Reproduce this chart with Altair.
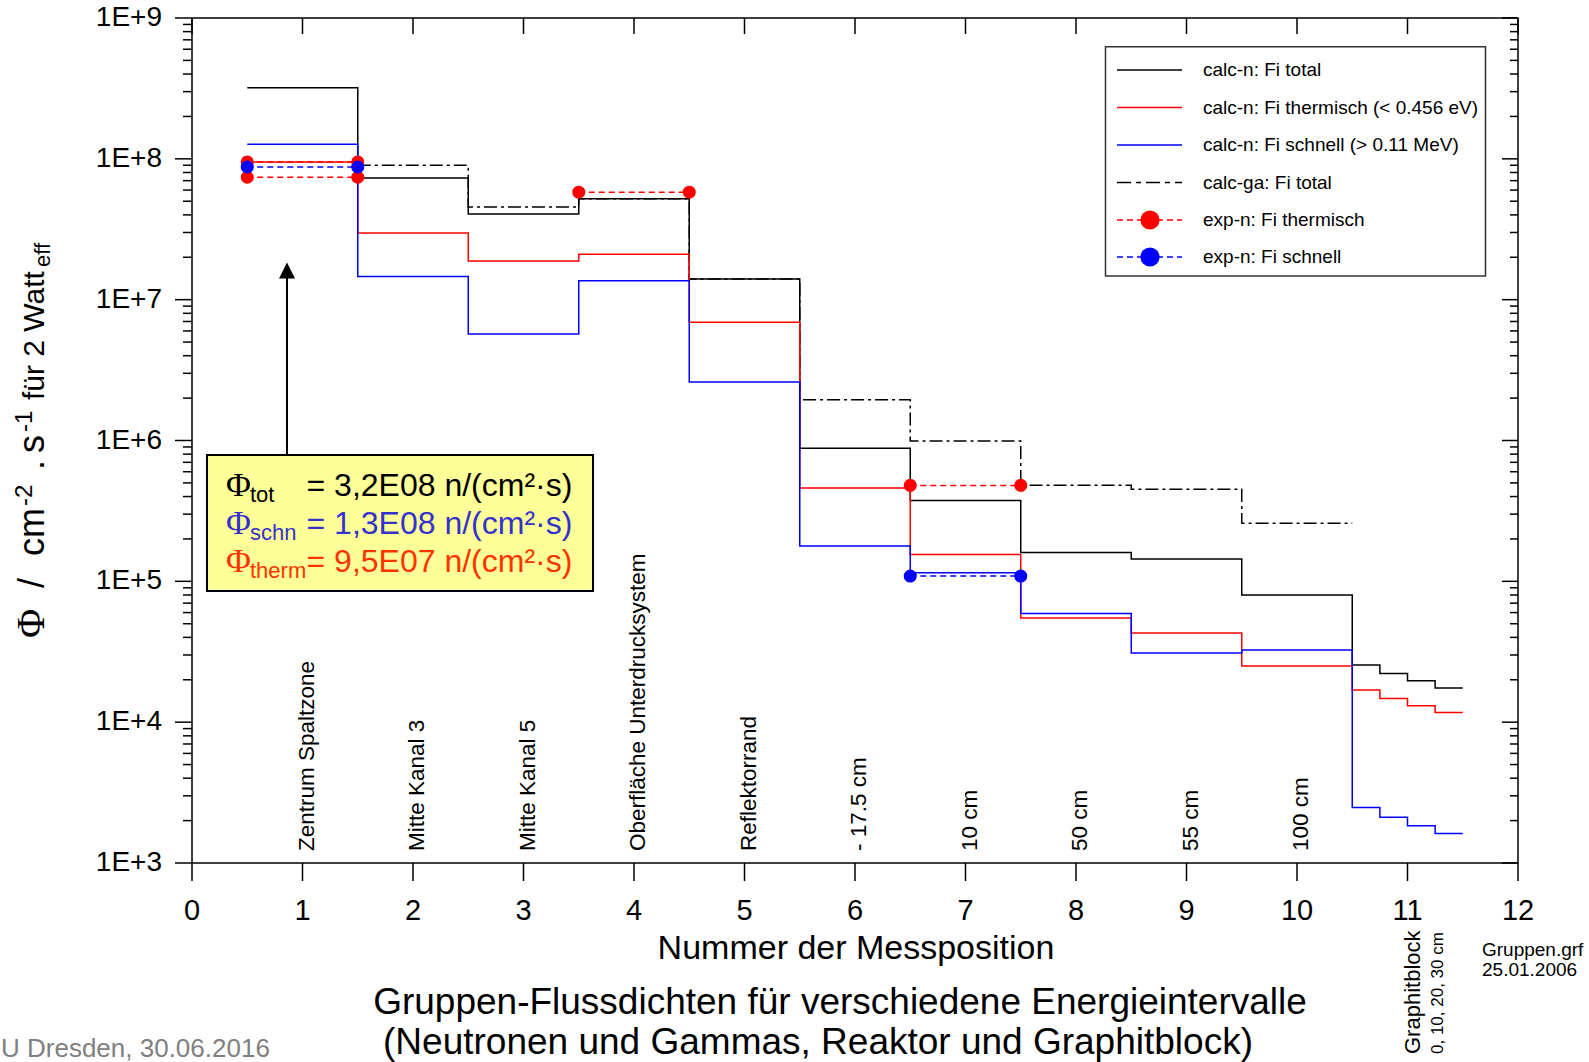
import altair as alt
import pandas as pd

# ---------------- data ----------------
edges = [0.5, 1.5, 2.5, 3.5, 4.5, 5.5, 6.5, 7.5, 8.5, 9.5, 10.5, 10.75, 11.0, 11.25, 11.5]
calc_total = [3.2e8, 7.3e7, 4.05e7, 5.2e7, 1.4e7, 8.8e5, 3.75e5, 1.6e5, 1.44e5, 8.0e4,
              2.55e4, 2.22e4, 1.97e4, 1.75e4, 1.75e4]
calc_therm = [9.5e7, 2.97e7, 1.88e7, 2.1e7, 6.9e6, 4.6e5, 1.55e5, 5.5e4, 4.3e4, 2.5e4,
              1.69e4, 1.47e4, 1.31e4, 1.17e4, 1.17e4]
calc_fast = [1.27e8, 1.46e7, 5.7e6, 1.36e7, 2.6e6, 1.78e5, 1.15e5, 5.9e4, 3.1e4, 3.25e4,
             2.48e3, 2.11e3, 1.84e3, 1.62e3, 1.62e3]
ga_edges = [1.5, 2.5, 3.5, 4.5, 5.5, 6.5, 7.5, 8.5, 9.5, 10.5]
calc_ga_total = [9.0e7, 4.55e7, 5.2e7, 1.4e7, 1.95e6, 9.9e5, 4.82e5, 4.5e5, 2.59e5, 2.59e5]

exp_therm_x = [0.5, 1.5, 0.5, 1.5, 3.5, 4.5, 6.5, 7.5]
exp_therm_y = [9.5e7, 9.5e7, 7.4e7, 7.4e7, 5.8e7, 5.8e7, 4.8e5, 4.8e5]
exp_therm_seg = [1, 1, 2, 2, 3, 3, 4, 4]
exp_fast_x = [0.5, 1.5, 6.5, 7.5]
exp_fast_y = [8.75e7, 8.75e7, 1.09e5, 1.09e5]
exp_fast_seg = [1, 1, 2, 2]

pos_numbers = [1, 2, 3, 4, 5, 6, 7, 8, 9, 10]
pos_labels = ["Zentrum Spaltzone", "Mitte Kanal 3", "Mitte Kanal 5",
              "Oberfläche Unterdrucksystem", "Reflektorrand", "- 17.5 cm",
              "10 cm", "50 cm", "55 cm", "100 cm"]

legend_labels = ["calc-n: Fi total", "calc-n: Fi thermisch (< 0.456 eV)",
                 "calc-n: Fi schnell (> 0.11 MeV)", "calc-ga: Fi total",
                 "exp-n: Fi thermisch", "exp-n: Fi schnell"]

x_ticks = list(range(0, 13))
x_tick_labels = [str(v) for v in x_ticks]
y_major = [1e3, 1e4, 1e5, 1e6, 1e7, 1e8, 1e9]
y_tick_labels = ["1E+3", "1E+4", "1E+5", "1E+6", "1E+7", "1E+8", "1E+9"]
y_minor = [m * 10 ** k for k in range(3, 9) for m in range(2, 10)]

# ---------------- layout ----------------
W, H = 1326, 845
PL, PT = 192, 18
PR, PB = 1589 - PL - W, 1062 - PT - H
FONT = "Liberation Sans, Arial, sans-serif"
SERIF = "Liberation Serif, Times New Roman, serif"
RED, BLUE, BLACK = "#FF0000", "#0000FF", "#000000"

XS = alt.Scale(domain=[0, 12], nice=False, zero=False)
YS = alt.Scale(type="log", domain=[1e3, 1e9], nice=False)

one = pd.DataFrame({"k": [0]})


def X(field):
    return alt.X(field, scale=XS, axis=None)


def Y(field):
    return alt.Y(field, scale=YS, axis=None)


def steps(xs, ys, color, dash=None):
    df = pd.DataFrame({"x": xs, "y": ys})
    kw = dict(interpolate="step-after", color=color, strokeWidth=1.5)
    if dash:
        kw["strokeDash"] = dash
    return alt.Chart(df).mark_line(**kw).encode(x=X("x:Q"), y=Y("y:Q"))


def exp_layers(xs, ys, seg, color):
    df = pd.DataFrame({"x": xs, "y": ys, "seg": seg})
    base = alt.Chart(df).encode(x=X("x:Q"), y=Y("y:Q"))
    ln = base.mark_line(color=color, strokeWidth=1.5, strokeDash=[6, 4]).encode(detail="seg:N")
    pt = base.mark_circle(color=color, size=170, opacity=1)
    return [ln, pt]


def txt(s, x, y, size, color="black", font=FONT, align="left", baseline="alphabetic", angle=0):
    return alt.Chart(one).mark_text(text=s, fontSize=size, font=font, color=color, align=align,
                                    baseline=baseline, angle=angle).encode(
        x=alt.value(x), y=alt.value(y))


def rule(df, **enc):
    return alt.Chart(df).mark_rule(color="black", strokeWidth=1.5).encode(**enc)


layers = []
# calculated step curves
layers.append(steps(ga_edges, calc_ga_total, BLACK, dash=[13, 4, 3, 4]))
layers.append(steps(edges, calc_total, BLACK))
layers.append(steps(edges, calc_therm, RED))
layers.append(steps(edges, calc_fast, BLUE))
# experimental values
layers += exp_layers(exp_therm_x, exp_therm_y, exp_therm_seg, RED)
layers += exp_layers(exp_fast_x, exp_fast_y, exp_fast_seg, BLUE)

# axes: ticks and labels
minor_df = pd.DataFrame({"v": y_minor})
major_df = pd.DataFrame({"v": y_major, "lab": y_tick_labels})
xt_df = pd.DataFrame({"v": x_ticks, "lab": x_tick_labels})
layers.append(rule(minor_df, y=Y("v:Q"), x=alt.value(-9), x2=alt.value(0)))
layers.append(rule(major_df, y=Y("v:Q"), x=alt.value(-17), x2=alt.value(0)))
layers.append(rule(minor_df, y=Y("v:Q"), x=alt.value(W - 8), x2=alt.value(W)))
layers.append(rule(major_df, y=Y("v:Q"), x=alt.value(W - 16), x2=alt.value(W)))
layers.append(rule(xt_df, x=X("v:Q"), y=alt.value(0), y2=alt.value(16)))
layers.append(rule(xt_df, x=X("v:Q"), y=alt.value(H), y2=alt.value(H + 18)))
layers.append(alt.Chart(major_df).mark_text(align="right", baseline="middle", fontSize=28,
                                            font=FONT, color="black").encode(
    y=Y("v:Q"), x=alt.value(-30), text="lab:N"))
layers.append(alt.Chart(xt_df).mark_text(align="center", baseline="alphabetic", fontSize=29,
                                         font=FONT, color="black").encode(
    x=X("v:Q"), y=alt.value(H + 57), text="lab:N"))

# position labels (vertical)
lab_df = pd.DataFrame({"pos": pos_numbers, "label": pos_labels})
layers.append(alt.Chart(lab_df).mark_text(angle=270, align="left", baseline="alphabetic", dy=11,
                                          fontSize=22.5, font=FONT, color="black").encode(
    x=X("pos:Q"), y=alt.value(833), text="label:N"))

# annotation box with arrow
layers.append(alt.Chart(one).mark_rule(color="black", strokeWidth=2).encode(
    x=alt.value(95), y=alt.value(259), y2=alt.value(437)))
layers.append(alt.Chart(one).mark_point(shape="M0,-1L1,1L-1,1Z", filled=True, size=256,
                                        color="black", opacity=1).encode(
    x=alt.value(95), y=alt.value(252.5)))
layers.append(alt.Chart(one).mark_rect(fill="#FFFF99", stroke="black", strokeWidth=2).encode(
    x=alt.value(15), x2=alt.value(401), y=alt.value(437), y2=alt.value(573)))
box_rows = [("tot", "= 3,2E08 n/(cm²·s)", "black", 478),
            ("schn", "= 1,3E08 n/(cm²·s)", "#3333CC", 516),
            ("therm", "= 9,5E07 n/(cm²·s)", "#FF3300", 554)]
for sub, rest, col, yb in box_rows:
    layers.append(txt("Φ", 34, yb, 34, color=col, font=SERIF))
    layers.append(txt(sub, 58, yb + 6, 22, color=col))
    layers.append(txt(rest, 114.5, yb, 32, color=col))

# legend
LX0, LX1, LY0, LY1 = 913.5, 1293.5, 28.7, 258
layers.append(alt.Chart(one).mark_rect(fill="white", stroke="#333333", strokeWidth=1.5).encode(
    x=alt.value(LX0), x2=alt.value(LX1), y=alt.value(LY0), y2=alt.value(LY1)))
row_y = [52, 89.5, 127, 164.5, 202, 239]
row_col = [BLACK, RED, BLUE, BLACK, RED, BLUE]
row_dash = [None, None, None, [14, 5, 5, 5], [6, 4], [6, 4]]
for i, lab in enumerate(legend_labels):
    kw = dict(color=row_col[i], strokeWidth=1.5)
    if row_dash[i]:
        kw["strokeDash"] = row_dash[i]
    layers.append(alt.Chart(one).mark_rule(**kw).encode(
        x=alt.value(925), x2=alt.value(990), y=alt.value(row_y[i])))
    if i >= 4:
        layers.append(alt.Chart(one).mark_circle(color=row_col[i], size=370, opacity=1).encode(
            x=alt.value(958), y=alt.value(row_y[i])))
    layers.append(txt(lab, 1011, row_y[i], 19, baseline="middle"))

# y axis title (rotated, with super/subscripts); (text, bottom y, baseline x, size, font)
ytitle = [("Φ", 638, 44, 40, SERIF), ("/", 588, 44, 36, FONT), ("cm", 556, 44, 36, FONT),
          ("-2", 506, 32, 24, FONT), (".", 470, 44, 36, FONT), ("s", 453, 44, 36, FONT),
          ("-1", 432, 32, 24, FONT), ("für 2 Watt", 400, 44, 30, FONT),
          ("eff", 267, 50, 22, FONT)]
for s, ys, xb, sz, fnt in ytitle:
    layers.append(txt(s, xb - PL, ys - PT, sz, font=fnt, angle=270))

# texts below / beside the plot
layers.append(txt("Nummer der Messposition", 664, 941, 34, align="center"))
layers.append(txt("Gruppen-Flussdichten für verschiedene Energieintervalle", 648, 995.5, 37,
                  align="center"))
layers.append(txt("(Neutronen und Gammas, Reaktor und Graphitblock)", 626, 1036, 37,
                  align="center"))
layers.append(txt("U Dresden, 30.06.2016", 1 - PL, 1039, 26, color="#808080"))
layers.append(txt("Graphitblock", 1420 - PL, 1054 - PT, 22, angle=270))
layers.append(txt("0, 10, 20, 30 cm", 1443 - PL, 1054 - PT, 17, angle=270))
layers.append(txt("Gruppen.grf", 1290, 938, 19))
layers.append(txt("25.01.2006", 1290, 958, 19))

chart = alt.layer(*layers).properties(
    width=W, height=H,
    autosize=alt.AutoSizeParams(type="none"),
    padding={"left": PL, "top": PT, "right": PR, "bottom": PB},
    background="white",
).configure_view(stroke="black", strokeWidth=1.5)

chart.save("out.html", embed_options={"renderer": "svg", "actions": False})
